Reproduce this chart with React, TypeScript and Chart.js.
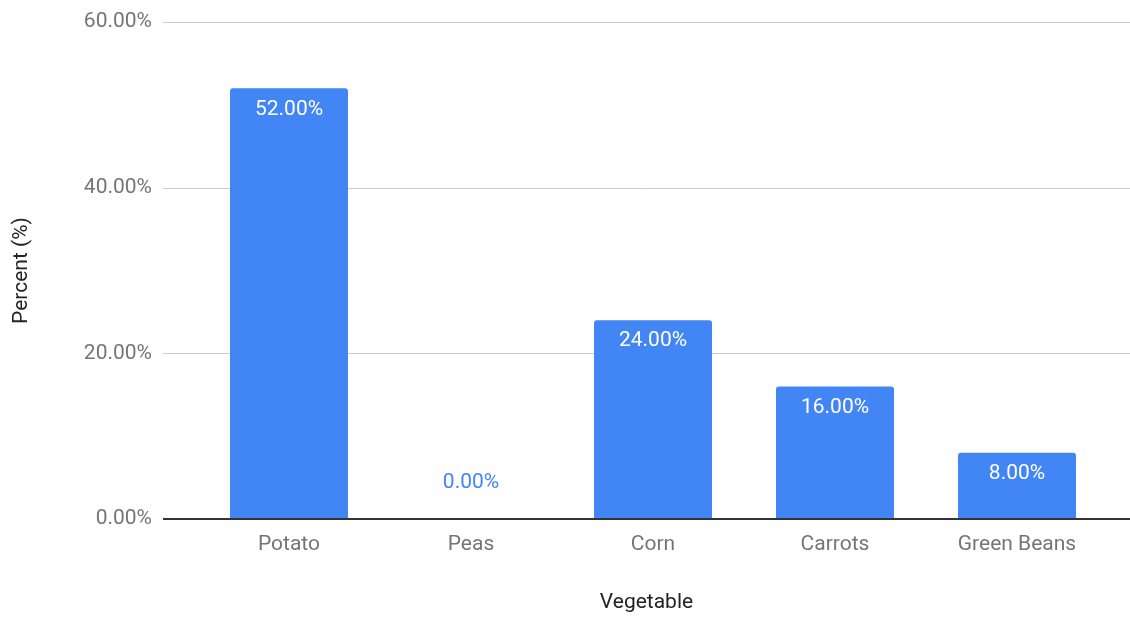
import React, { useEffect, useRef } from "react";
import { Chart, registerables } from "chart.js";

Chart.register(...registerables);

const categories = ["Potato", "Peas", "Corn", "Carrots", "Green Beans"];
const percentValues = [52, 0, 24, 16, 8];
const yTickMax = 60;
const yTickStep = 20;
const xAxisTitle = "Vegetable";
const yAxisTitle = "Percent (%)";

const FONT = "Roboto, 'Noto Sans', sans-serif";
const BAR_COLOR = "#4285F4";

const fmt = (v: number) => v.toFixed(2) + "%";

const gridPlugin = {
  id: "extGrid",
  beforeDatasetsDraw(chart: any) {
    const { ctx, scales } = chart;
    const y = scales.y;
    ctx.save();
    y.ticks.forEach((t: any) => {
      if (t.value === 0) return;
      const py = Math.round(y.getPixelForValue(t.value));
      ctx.beginPath();
      ctx.strokeStyle = "#cccccc";
      ctx.lineWidth = 1;
      ctx.moveTo(163, py + 0.5);
      ctx.lineTo(chart.width, py + 0.5);
      ctx.stroke();
    });
    ctx.restore();
  },
  afterDatasetsDraw(chart: any) {
    const { ctx, scales } = chart;
    const y = scales.y;
    ctx.save();
    const py = Math.round(y.getPixelForValue(0));
    ctx.strokeStyle = "#333333";
    ctx.lineWidth = 2;
    ctx.beginPath();
    ctx.moveTo(163, py);
    ctx.lineTo(chart.width, py);
    ctx.stroke();

    // value labels
    const meta = chart.getDatasetMeta(0);
    ctx.font = `21px ${FONT}`;
    ctx.textAlign = "center";
    ctx.textBaseline = "middle";
    meta.data.forEach((bar: any, i: number) => {
      const v = chart.data.datasets[0].data[i] as number;
      if (v > 0) {
        ctx.fillStyle = "#ffffff";
        ctx.fillText(fmt(v), bar.x, bar.y + 21);
      } else {
        ctx.fillStyle = BAR_COLOR;
        ctx.fillText(fmt(v), bar.x, bar.base - 36);
      }
    });

    // axis titles
    ctx.fillStyle = "#222222";
    ctx.font = `21px ${FONT}`;
    ctx.textAlign = "center";
    ctx.textBaseline = "middle";
    ctx.fillText(xAxisTitle, (163 + chart.width) / 2, 603);
    ctx.save();
    ctx.translate(22, (chart.chartArea.top + chart.chartArea.bottom) / 2);
    ctx.rotate(-Math.PI / 2);
    ctx.fillText(yAxisTitle, 0, 0);
    ctx.restore();
    ctx.restore();
  },
};

export default function App() {
  const ref = useRef<HTMLCanvasElement | null>(null);
  useEffect(() => {
    if (!ref.current) return;
    const chart = new Chart(ref.current, {
      type: "bar",
      data: {
        labels: categories,
        datasets: [
          {
            data: percentValues,
            backgroundColor: BAR_COLOR,
            borderRadius: 3,
            borderSkipped: "bottom",
            categoryPercentage: 1,
            barPercentage: 118 / 182,
          },
        ],
      },
      options: {
        animation: false,
        responsive: false,
        maintainAspectRatio: false,
        layout: { padding: { top: 22, right: 22, bottom: 0, left: 0 } },
        plugins: {
          legend: { display: false },
          tooltip: { enabled: false },
        },
        scales: {
          x: {
            grid: { display: false, drawTicks: false },
            border: { display: false },
            ticks: {
              color: "#757575",
              font: { family: FONT, size: 21 },
              padding: 13,
              maxRotation: 0,
              autoSkip: false,
            },
            afterFit: (s: any) => {
              s.height = 100;
              s.paddingLeft = 0;
              s.paddingRight = 0;
            },
          },
          y: {
            min: 0,
            max: yTickMax,
            grid: { display: false, drawTicks: false },
            border: { display: false },
            ticks: {
              stepSize: yTickStep,
              color: "#757575",
              font: { family: FONT, size: 21 },
              padding: 46,
              callback: (v: any) => fmt(Number(v)),
            },
            afterFit: (s: any) => {
              s.width = 198;
              s.paddingTop = 0;
              s.paddingBottom = 0;
            },
          },
        },
      },
      plugins: [gridPlugin],
    });
    return () => chart.destroy();
  }, []);
  return (
    <div style={{ position: "fixed", left: 0, top: 0, width: 1130, height: 619, background: "#fff" }}>
      <canvas ref={ref} width={1130} height={619} style={{ width: 1130, height: 619 }} />
    </div>
  );
}
